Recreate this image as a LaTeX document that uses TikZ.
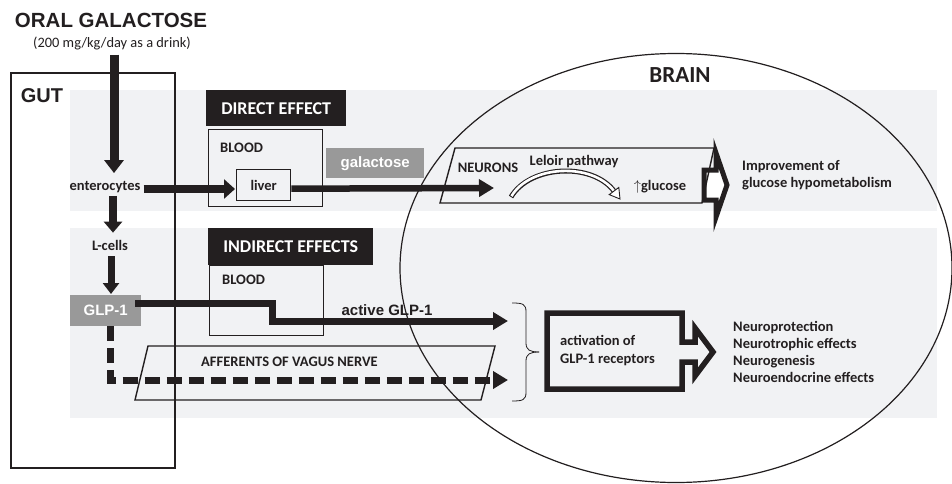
\documentclass[tikz,border=0pt]{standalone}
\usepackage{fontspec}
\setmainfont{Carlito}
\newfontfamily\arialfont{Liberation Sans}
\usetikzlibrary{arrows.meta,calc}
\definecolor{band}{HTML}{F1F2F4}
\definecolor{gbox}{HTML}{999999}
\definecolor{ink}{HTML}{231F20}
\tikzset{
  cal/.style={font=\fontsize{14.5}{17.5}\selectfont\bfseries, text=ink, inner sep=0pt},
  ar/.style={font=\arialfont\fontsize{15}{18}\selectfont\bfseries, text=ink, inner sep=0pt},
  headbox/.style={fill=ink, text=white, font=\fontsize{18}{21}\selectfont\bfseries, anchor=north west, inner sep=0pt},
  greybox/.style={fill=gbox, text=white, font=\arialfont\fontsize{15}{18}\selectfont\bfseries, anchor=north west, inner sep=0pt},
  frame/.style={draw=ink, line width=1.4pt},
  fatdown/.style={draw=ink, line width=9pt, -{Triangle[length=13pt,width=19pt]}},
  fatright/.style={draw=ink, line width=8pt, -{Triangle[length=11pt,width=19pt]}},
  medarrow/.style={draw=ink, line width=7pt, -{Triangle[length=15pt,width=17pt]}, line join=miter},
  blockarrow/.style={draw=ink, line width=5pt, line join=miter},
}
\begin{document}
\begin{tikzpicture}[x=1pt,y=-1pt]
\useasboundingbox (0,0) rectangle (952,484);
\fill[white] (0,0) rectangle (952,484);
% background bands
\fill[band] (70,90) rectangle (937,211);
\fill[band] (70,228) rectangle (937,418);
% gut box
\draw[frame, line width=1.3pt] (11,73) rectangle (175,468);
% brain ellipse
\draw[ink, line width=1.2pt] (676,268) ellipse [x radius=276, y radius=214.5];

% titles
\node[font=\arialfont\fontsize{20.5}{24}\selectfont\bfseries, text=ink] (oral) at (111,20) {ORAL GALACTOSE};
\node[font=\fontsize{14.4}{17}\selectfont, text=ink, inner sep=0pt] (dose) at (112,43) {(200 mg/kg/day as a drink)};
\node[font=\arialfont\fontsize{20}{24}\selectfont\bfseries, text=ink] (gut) at (42,96) {GUT};
\node[font=\fontsize{23}{27}\selectfont\bfseries, text=ink] (brain) at (680,75) {BRAIN};

% gut contents
\node[cal] (ent) at (105,187) {enterocytes};
\node[cal] (lcell) at (110,245) {L-cells};
\node[greybox, minimum width=71, minimum height=31] (glp) at (70,295) {GLP-1};

% direct effect
\node[headbox, minimum width=140, minimum height=36] (direct) at (206,90) {DIRECT EFFECT};
\node[frame, anchor=north west, minimum width=114, minimum height=77, inner sep=0pt] (blood1) at (208,129) {};
\node[cal, anchor=west] (bl1) at (220,148) {BLOOD};
\node[cal, frame, anchor=north west, minimum width=54, minimum height=31] (liver) at (236,169) {liver};
\node[greybox, minimum width=98, minimum height=30] (galbox) at (326,148) {galactose};

% neurons
\draw[blockarrow, fill=white] (704,170) -- (716,170) -- (716,153) -- (727,185) -- (716,217) -- (716,200) -- (704,200) -- cycle;
\draw[frame] (455,148) -- (714,148) -- (702,203) -- (440,203) -- cycle;
\node[cal] (neu) at (488,168) {NEURONS};
\node[cal] (leloir) at (574,162) {Leloir pathway};
\node[cal] (gluc) at (660,187) {$\uparrow$glucose};
\coordinate (nin) at (494,188);
\draw[ink, line width=5pt] (511,197) .. controls (530,165) and (592,162) .. (614,191);
\draw[white, line width=2.6pt, shorten <=1pt] (511,197) .. controls (530,165) and (592,162) .. (614,191);
\draw[ink, line width=0.9pt, fill=white, line join=miter] (620,199) -- (609.2,194.6) -- (618.8,187.4) -- cycle;
\node[cal, align=left, anchor=west] (impr) at (742,175) {Improvement of\\glucose hypometabolism};

% indirect effects
\node[headbox, minimum width=165, minimum height=37] (indirect) at (208,228) {INDIRECT EFFECTS};
\node[frame, anchor=north west, minimum width=114, minimum height=70, inner sep=0pt] (blood2) at (209,265) {};
\node[cal, anchor=west] (bl2) at (222,280) {BLOOD};
\draw[frame] (148,346) -- (495,346) -- (481,400) -- (135,400) -- cycle;
\node[cal, anchor=west] (aff) at (201,362) {AFFERENTS OF VAGUS NERVE};
\node[ar] (actlbl) at (387,310) {active GLP-1};
\coordinate (tipA) at (508,321);
\coordinate (tipB) at (508,380);

% brace
\draw[ink, line width=0.8pt] (512,303) .. controls (523,303) and (526,304) .. (526,312) -- (526,343) .. controls (526,350) and (530,352) .. (539,352);
\draw[ink, line width=0.8pt] (512,401) .. controls (523,401) and (526,400) .. (526,392) -- (526,361) .. controls (526,354) and (530,352) .. (539,352);

% activation block arrow
\draw[blockarrow, line width=5.5pt] (547,313) -- (682,313) -- (682,342) -- (695,342) -- (695,328) -- (713,352) -- (695,376) -- (695,362) -- (682,362) -- (682,389) -- (547,389) -- cycle;
\node[cal, align=left, anchor=west] (act) at (560,350.5) {activation of\\GLP-1 receptors};
\node[cal, align=left, anchor=west, font=\fontsize{14.5}{17.3}\selectfont\bfseries] (neuro) at (733,352) {Neuroprotection\\Neurotrophic effects\\Neurogenesis\\Neuroendocrine effects};

% arrows
\coordinate (ax) at (114,0);
\draw[fatdown] ($(dose.south -| ax)+(0,5)$) -- ($(ent.north -| ax)+(0,-8)$);
\draw[fatdown, line width=8pt, -{Triangle[length=11pt,width=18pt]}] ($(ent.south -| ax)+(-1,3)$) -- ($(lcell.north -| ax)+(-1,-7)$);
\draw[fatdown, line width=7pt, -{Triangle[length=11pt,width=16pt]}] ($(lcell.south -| ax)+(-3,6)$) -- ($(glp.north -| ax)+(-3,-1)$);
\draw[fatright] ($(ent.east)+(3,2)$) -- ($(liver.west |- ent.east)+(-1,2)$);
\draw[draw=ink, line width=6.5pt, -{Triangle[length=15pt,width=17pt]}] ($(liver.east)+(0,3.5)$) -- (nin);
\draw[medarrow] ($(glp.east)+(-6,-7.5)$) -| ($(glp.east |- tipA)+(131,0)$) -- (tipA);
\draw[medarrow, dash pattern=on 15pt off 7pt] ($(glp.south)+(4.5,0)$) |- (tipB);
\end{tikzpicture}
\end{document}
